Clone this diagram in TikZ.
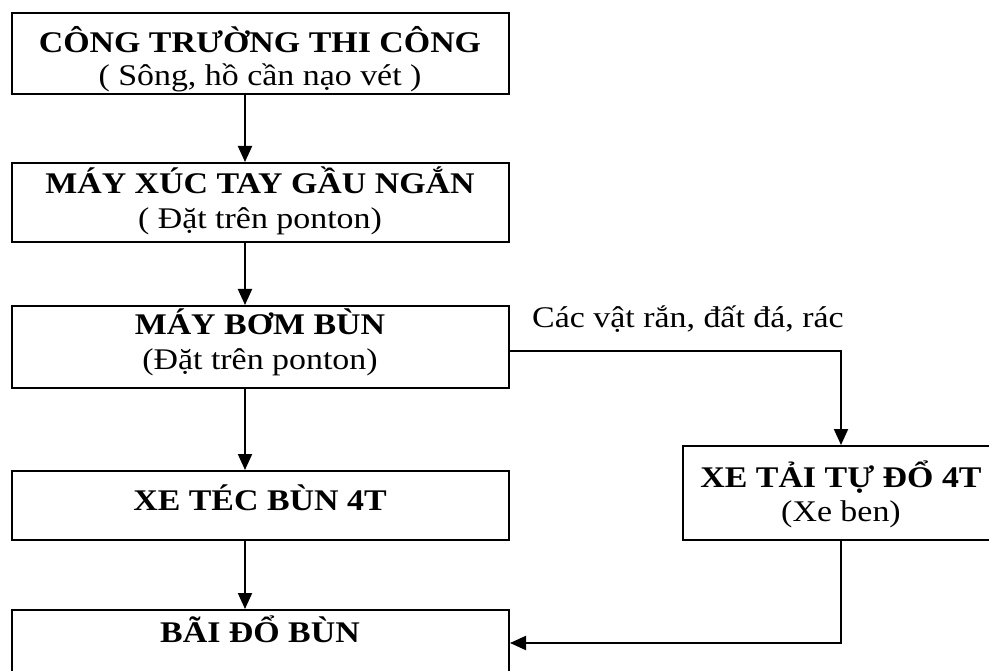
\documentclass[tikz,border=0pt]{standalone}
\usepackage{fontspec}
\setmainfont{Liberation Serif}[FakeStretch=1.13]
\usetikzlibrary{arrows.meta}
\begin{document}
\begin{tikzpicture}[x=1pt,y=-1pt,
  box/.style={draw, line width=2pt, inner sep=0pt, anchor=north west},
  txt/.style={anchor=base, inner sep=0pt, font=\fontsize{30}{34}\selectfont},
  bt/.style={anchor=base, inner sep=0pt, font=\fontsize{30}{34}\selectfont\bfseries},
  conn/.style={line width=2pt, -{Triangle[length=16pt,width=14pt]}}]
\useasboundingbox (0,0) rectangle (989,671);
% boxes
\node[box, minimum width=497pt, minimum height=81pt] (b1) at (11,12) {};
\node[box, minimum width=497pt, minimum height=79pt] (b2) at (11,162) {};
\node[box, minimum width=497pt, minimum height=82pt] (b3) at (11,305) {};
\node[box, minimum width=497pt, minimum height=69pt] (b4) at (11,470) {};
\node[box, minimum width=497pt, minimum height=66pt] (b5) at (11,609) {};
\node[box, minimum width=316pt, minimum height=94pt] (rb) at (682,445) {};
% texts
\node[bt] (t1a) at (260,53) {CÔNG TRƯỜNG THI CÔNG};
\node[txt] (t1b) at (260,86) {( Sông, hồ cần nạo vét )};
\node[bt] (t2a) at (260,194) {MÁY XÚC TAY GẦU NGẮN};
\node[txt] (t2b) at (260,229) {( Đặt trên ponton)};
\node[bt] (t3a) at (260,335) {MÁY BƠM BÙN};
\node[txt] (t3b) at (260,370) {(Đặt trên ponton)};
\node[bt] (t4a) at (260,510) {XE TÉC BÙN 4T};
\node[bt] (t5a) at (260,642) {BÃI ĐỔ BÙN};
\node[bt] (tra) at (841,487) {XE TẢI TỰ ĐỔ 4T};
\node[txt] (trb) at (841,521) {(Xe ben)};
\node[txt, anchor=base west] (lbl) at (532,328) {Các vật rắn, đất đá, rác};
% connectors
\coordinate (ax) at (245,0);
\coordinate (bry) at (0,351);
\draw[conn] (b1.south -| ax) -- (b2.north -| ax);
\draw[conn] (b2.south -| ax) -- (b3.north -| ax);
\draw[conn] (b3.south -| ax) -- (b4.north -| ax);
\draw[conn] (b4.south -| ax) -- (b5.north -| ax);
\draw[conn] (b3.east |- bry) -| (rb.north);
\draw[conn] (rb.south) |- (b5.east);
\end{tikzpicture}
\end{document}
